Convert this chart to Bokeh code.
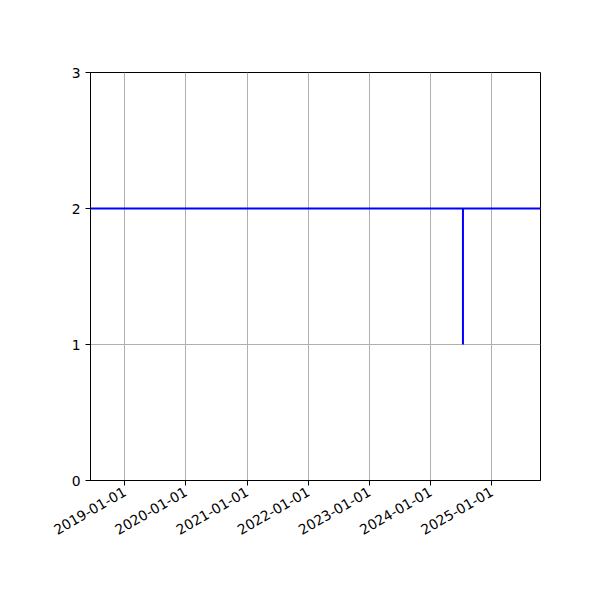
from math import pi
from datetime import datetime

from bokeh.plotting import figure
from bokeh.models import Span, FixedTicker, DatetimeTickFormatter, Range1d, ColumnDataSource
from bokeh.embed import file_html
from bokeh.resources import INLINE

# data
level_value = 2                       # horizontal line
step_date = [datetime(2024, 7, 12)]   # vertical drop
step_low = [1]
step_high = [2]

x_start = datetime(2018, 6, 10)
x_end = datetime(2025, 10, 18)
y_ticks = [0, 1, 2, 3]
year_ticks = [datetime(y, 1, 1) for y in [2019, 2020, 2021, 2022, 2023, 2024, 2025]]

FONT = "DejaVu Sans"
FSIZE = "13.9px"

p = figure(
    width=592, height=592,
    x_axis_type="datetime",
    x_range=Range1d(x_start, x_end),
    y_range=Range1d(0, 3),
    toolbar_location=None,
    output_backend="svg",
    min_border_left=90, min_border_right=52,
    min_border_top=72, min_border_bottom=112,
    background_fill_color="white",
    border_fill_color="white",
)

# horizontal level line across the whole axis
p.add_layout(Span(location=level_value, dimension="width",
                  line_color="blue", line_width=2))

src = ColumnDataSource(dict(x=step_date, y0=step_low, y1=step_high))
p.segment(x0="x", y0="y0", x1="x", y1="y1", source=src,
          line_color="blue", line_width=2)

# axes
p.xaxis.ticker = FixedTicker(ticks=[d.timestamp() * 1000 for d in year_ticks])
p.xaxis.formatter = DatetimeTickFormatter(years="%Y-%m-%d", months="%Y-%m-%d",
                                          days="%Y-%m-%d")
p.xaxis.major_label_orientation = pi / 6
p.yaxis.ticker = FixedTicker(ticks=y_ticks)

for ax in (p.xaxis, p.yaxis):
    ax.minor_tick_line_color = None
    ax.major_tick_in = 0
    ax.major_tick_out = 5
    ax.major_tick_line_width = 1
    ax.axis_line_width = 1
    ax.major_label_text_font = FONT
    ax.major_label_text_font_size = FSIZE
    ax.major_label_text_color = "black"
    ax.major_label_standoff = 5

p.grid.grid_line_color = "#b0b0b0"
p.grid.grid_line_width = 1
p.outline_line_color = "black"
p.outline_line_width = 1
p.outline_line_alpha = 1

open("out.html", "w").write(file_html(p, INLINE))
